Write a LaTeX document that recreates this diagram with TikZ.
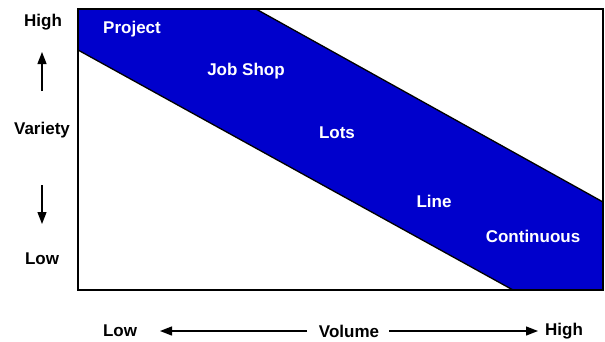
\documentclass[tikz,border=0pt]{standalone}
\usepackage{fontspec}
\setmainfont{Liberation Sans}
\usetikzlibrary{arrows.meta}
\definecolor{bandblue}{RGB}{0,0,204}
\begin{document}
\begin{tikzpicture}[x=1pt,y=-1pt,
  lbl/.style={font=\fontsize{17}{20}\selectfont\bfseries, inner sep=0pt},
  wlbl/.style={lbl, text=white},
  axarrow/.style={line width=1.3pt, -{Triangle[length=12pt,width=9pt]}}]
\useasboundingbox (0,0) rectangle (605,341);
% band
\fill[bandblue] (78,9) -- (256,9) -- (603,202) -- (603,290) -- (513,290) -- (78,50) -- cycle;
\draw[line width=1.3pt] (256,9) -- (603,202);
\draw[line width=1.3pt] (78,50) -- (513,290);
% frame
\draw[line width=1.8pt] (78,9) rectangle (603,290);
% band labels
\node[wlbl] (project) at (132,29) {Project};
\node[wlbl] (jobshop) at (246,71) {Job Shop};
\node[wlbl] (lots) at (337,133) {Lots};
\node[wlbl] (line) at (434,201) {Line};
\node[wlbl] (cont) at (533,236) {Continuous};
% variety axis
\node[lbl] (vhigh) at (43,22) {High};
\node[lbl] (variety) at (42,130) {Variety};
\node[lbl] (vlow) at (42,259) {Low};
\coordinate (upA) at (42,91);
\coordinate (upB) at (42,52);
\coordinate (dnA) at (42,185);
\coordinate (dnB) at (42,224);
\draw[axarrow] (upA) -- (upB);
\draw[axarrow] (dnA) -- (dnB);
% volume axis
\node[lbl] (hlow) at (120,331) {Low};
\node[lbl] (volume) at (349,331) {Volume};
\node[lbl] (hhigh) at (564,331) {High};
\coordinate (lt) at (160,331);
\coordinate (ls) at (307,331);
\coordinate (rs) at (389,331);
\coordinate (rt) at (538,331);
\draw[axarrow] (ls) -- (lt);
\draw[axarrow] (rs) -- (rt);
\end{tikzpicture}
\end{document}
